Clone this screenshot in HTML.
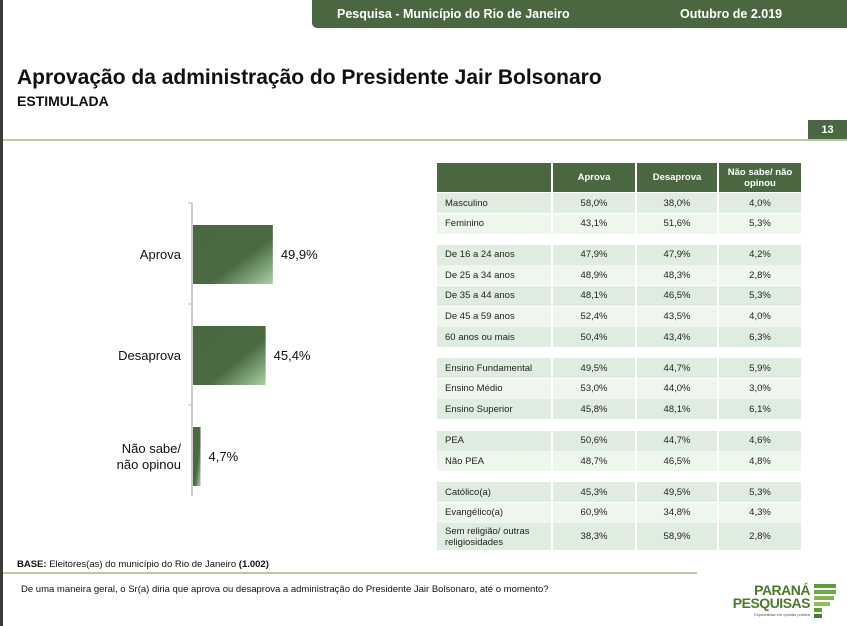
<!DOCTYPE html>
<html><head><meta charset="utf-8">
<style>
*{margin:0;padding:0;box-sizing:border-box}
body{width:847px;height:626px;background:#fff;position:relative;overflow:hidden;font-family:"Liberation Sans",Arial,sans-serif;color:#111}
.abs{position:absolute}
.cell{position:absolute;font-size:9.5px;display:flex;align-items:center;color:#222;line-height:11px}
.num{justify-content:center}
</style></head><body>
<div class="abs" style="left:0;top:0;width:3px;height:626px;background:#3a3a3a"></div>
<div class="abs" style="left:312px;top:0;width:535px;height:28px;background:#4a6741;border-bottom-left-radius:5px"></div>
<div class="abs" style="left:337px;top:7px;color:#fff;font-size:12.5px;font-weight:bold">Pesquisa - Município do Rio de Janeiro</div>
<div class="abs" style="left:680px;top:7px;color:#fff;font-size:12.5px;font-weight:bold">Outubro de 2.019</div>
<div class="abs" style="left:17px;top:66px;font-size:21px;font-weight:bold">Aprovação da administração do Presidente Jair Bolsonaro</div>
<div class="abs" style="left:17px;top:93px;font-size:14px;font-weight:bold">ESTIMULADA</div>
<div class="abs" style="left:808px;top:120px;width:39px;height:20px;background:#4a6741;color:#fff;font-size:11px;font-weight:bold;text-align:center;line-height:20px">13</div>
<div class="abs" style="left:3px;top:139px;width:844px;height:2px;background:#b9c7a9"></div>

<svg class="abs" style="left:0;top:0" width="440" height="520">
<defs><linearGradient id="g" x1="0" y1="0" x2="1" y2="1">
<stop offset="0" stop-color="#4a6741"/><stop offset="0.6" stop-color="#4b6a43"/><stop offset="1" stop-color="#a9d1a4"/></linearGradient></defs>
<g id="chart"></g>
</svg>

<div id="table"></div>

<div class="abs" style="left:17px;top:559px;font-size:9.5px"><b>BASE:</b> Eleitores(as) do município do Rio de Janeiro <b>(1.002)</b></div>
<div class="abs" style="left:3px;top:572px;width:694px;height:2px;background:#b9c7a9"></div>
<div class="abs" style="left:21px;top:584px;font-size:9.5px">De uma maneira geral, o Sr(a) diria que aprova ou desaprova a administração do Presidente Jair Bolsonaro, até o momento?</div>
<div class="abs" style="left:748px;top:582px;width:90px;height:40px">
 <div class="abs" style="right:28px;top:1px;font-size:14px;font-weight:bold;color:#4a7a2e;letter-spacing:-0.5px;line-height:14px">PARANÁ</div>
 <div class="abs" style="right:28px;top:14px;font-size:14px;font-weight:bold;color:#4a7a2e;letter-spacing:-0.5px;line-height:14px">PESQUISAS</div>
 <div class="abs" style="right:28px;top:30px;font-size:4px;color:#555">Especialista em opinião pública</div>
 <div class="abs" style="left:66px;top:2px;width:22px;height:4px;background:#5f9a3c"></div>
 <div class="abs" style="left:66px;top:8px;width:22px;height:4px;background:#6faa44"></div>
 <div class="abs" style="left:66px;top:14px;width:20px;height:4px;background:#7fb84c"></div>
 <div class="abs" style="left:66px;top:20px;width:16px;height:4px;background:#8cc254"></div>
 <div class="abs" style="left:66px;top:26px;width:8px;height:4px;background:#5f9a3c"></div>
 <div class="abs" style="left:66px;top:32px;width:8px;height:4px;background:#4a7a2e"></div>
</div>

<script>
const barLabels = [["Aprova"], ["Desaprova"], ["Não sabe/", "não opinou"]];
const barValues = [49.9, 45.4, 4.7];
const barValueText = ["49,9%", "45,4%", "4,7%"];

const rowLabels = [["Masculino","Feminino"],["De 16 a 24 anos","De 25 a 34 anos","De 35 a 44 anos","De 45 a 59 anos","60 anos ou mais"],["Ensino Fundamental","Ensino Médio","Ensino Superior"],[" PEA"," Não PEA"],[" Católico(a)"," Evangélico(a)"," Sem religião/ outras<br> religiosidades"]];
const aprova = [["58,0%","43,1%"],["47,9%","48,9%","48,1%","52,4%","50,4%"],["49,5%","53,0%","45,8%"],["50,6%","48,7%"],["45,3%","60,9%","38,3%"]];
const desaprova = [["38,0%","51,6%"],["47,9%","48,3%","46,5%","43,5%","43,4%"],["44,7%","44,0%","48,1%"],["44,7%","46,5%"],["49,5%","34,8%","58,9%"]];
const naoSabe = [["4,0%","5,3%"],["4,2%","2,8%","5,3%","4,0%","6,3%"],["5,9%","3,0%","6,1%"],["4,6%","4,8%"],["5,3%","4,3%","2,8%"]];

// chart
const NS="http://www.w3.org/2000/svg";
const g=document.getElementById('chart');
const x0=192, pxPerUnit=1.6, yTop=203, band=101;
const xScale=v=>v*pxPerUnit;
function mk(tag,attrs){const e=document.createElementNS(NS,tag);for(const k in attrs)e.setAttribute(k,attrs[k]);g.appendChild(e);return e;}
const ax=mk('line',{x1:x0,y1:yTop,x2:x0,y2:yTop+band*3-10,stroke:'#bbb','stroke-width':1.5});


for(let i=0;i<3;i++){const t=mk('line',{x1:x0-4,y1:yTop+band*i,x2:x0,y2:yTop+band*i,stroke:'#bbb','stroke-width':1});

}
barValues.forEach((v,i)=>{
 const y=yTop+band*i+22;
 const r=mk('rect',{x:x0+1,y:y,width:xScale(v),height:59,fill:'url(#g)'});
 
 
 const vt=mk('text',{x:x0+1+xScale(v)+8,y:y+34,'font-size':13,fill:'#111','font-family':'Liberation Sans, sans-serif'});
 vt.textContent=barValueText[i];
 
 
 const lines=barLabels[i];
 lines.forEach((l,j)=>{
  const lt=mk('text',{x:181,y:y+34+(j-(lines.length-1)/2)*16,'font-size':13,'text-anchor':'end',fill:'#111','font-family':'Liberation Sans, sans-serif'});
  lt.textContent=l;
  
  
 });
});

// table
const T=document.getElementById('table');
const cols=[437,553,637,719,803];
function cell(x,y,w,h,bg,html,cls,name){const d=document.createElement('div');d.className='cell '+cls;
 d.style.cssText=`left:${x}px;top:${y}px;width:${w}px;height:${h}px;background:${bg};`+(cls==='num'?'':'padding-left:8px;');
 d.innerHTML=html;
 
 
 T.appendChild(d);return d;}
const hdr=['','Aprova','Desaprova','Não sabe/ não<br>opinou'];
hdr.forEach((h,i)=>{const c=cell(cols[i],163,cols[i+1]-cols[i]-2,29,'#4a6741',h,'num','header-cell');c.style.color='#fff';c.style.fontWeight='bold';c.style.textAlign='center';});
let y=193;
rowLabels.forEach((grp,gi)=>{
 grp.forEach((lab,ri)=>{
  const h=(gi===4&&ri===2)?27:20;
  const bg=ri%2===0?'#dfede0':'#eef6ee';
  cell(cols[0],y,cols[1]-cols[0]-2,h,bg,lab,'','row-label');
  cell(cols[1],y,cols[2]-cols[1]-2,h,bg,aprova[gi][ri],'num','aprova-value');
  cell(cols[2],y,cols[3]-cols[2]-2,h,bg,desaprova[gi][ri],'num','desaprova-value');
  cell(cols[3],y,cols[4]-cols[3]-2,h,bg,naoSabe[gi][ri],'num','nao-sabe-value');
  y+=h+0.6;
 });
 y+=10.5;
});
</script>
</body></html>
